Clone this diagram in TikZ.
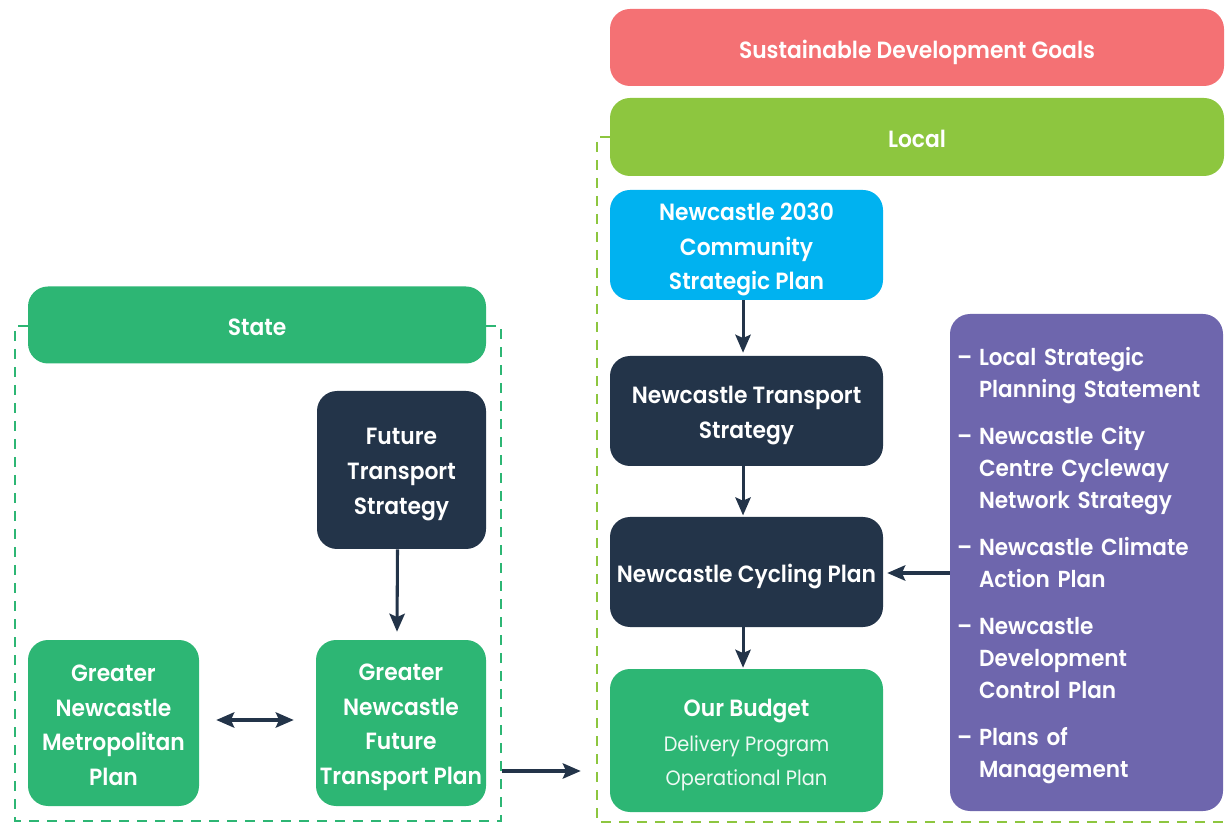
\documentclass[tikz,border=0pt]{standalone}
\usepackage{fontspec}
\setmainfont{Poppins}[FakeStretch=0.93]
\newfontfamily\semi{Poppins SemiBold}[FakeStretch=0.93]
\usetikzlibrary{arrows.meta}
\definecolor{sdg}{HTML}{F47174}
\definecolor{localg}{HTML}{8DC63F}
\definecolor{cyanb}{HTML}{00B2F0}
\definecolor{navy}{HTML}{233449}
\definecolor{greenb}{HTML}{2DB674}
\definecolor{purp}{HTML}{6E66AD}
\tikzset{
  x=0.75pt,y=-0.75pt,
  box/.style={draw=none,fill=#1,rounded corners=15pt,inner sep=0pt},
  lab/.style={inner sep=0pt,text=white,align=center,yshift=-3.4pt,
    font=\fontsize{17.6}{25.9}\selectfont\semi},
  labnd/.style={lab,yshift=1.7pt},
  pulab/.style={inner sep=0pt,text=white,align=left,text width=198pt,yshift=-2.6pt,
    font=\fontsize{17.4}{24}\selectfont\semi},
  arr/.style={draw=navy,line width=2.3pt,-{Stealth[length=13.5pt,width=11.5pt,inset=2.5pt]}},
  dbl/.style={draw=navy,line width=2.3pt,{Stealth[length=13.5pt,width=11.5pt,inset=2.5pt]}-{Stealth[length=13.5pt,width=11.5pt,inset=2.5pt]}},
  dashg/.style={draw=#1,line width=2pt,dash pattern=on 7.5pt off 6pt}
}
\newcommand{\reg}[1]{{\fontsize{15.6}{25.9}\selectfont\normalfont\color{white!92!greenb}#1}}
\newcommand{\dsh}{\makebox[16.5pt][l]{–}}
\newcommand{\ind}{\makebox[16.5pt][l]{}}
\begin{document}
\begin{tikzpicture}
\useasboundingbox (0,0) rectangle (1229,823);
\coordinate (sl) at (28,326);
\coordinate (sla) at (15,326);
\coordinate (slb) at (15,821);
\coordinate (slc) at (501,821);
\coordinate (sld) at (501,326);
\coordinate (sle) at (486,326);
\coordinate (ll) at (610,137);
\coordinate (lla) at (597,137);
\coordinate (llb) at (597,822);
\coordinate (llc) at (1224,822);
\draw[dashg=greenb] (sl) -- (sla) -- (slb) -- (slc) -- (sld) -- (sle);
\draw[dashg=localg] (ll) -- (lla) -- (llb) -- (llc);
\node[box=sdg,minimum width=460.5pt,minimum height=57.75pt] (sdgn) at (917,47.5) {};
\node[lab] (sdgt) at (sdgn.center) {Sustainable Development Goals};
\node[box=localg,minimum width=460.5pt,minimum height=58.5pt] (local) at (917,137) {};
\node[labnd] (localt) at (local.center) {Local};
\node[box=cyanb,minimum width=204.75pt,minimum height=82.5pt] (csp) at (746.5,245) {};
\node[lab] (cspt) at (csp.center) {Newcastle 2030\\Community\\Strategic Plan};
\node[box=navy,minimum width=204.75pt,minimum height=82.5pt] (nts) at (746.5,411) {};
\node[lab] (ntst) at (nts.center) {Newcastle Transport\\Strategy};
\node[box=navy,minimum width=204.75pt,minimum height=82.5pt] (ncp) at (746.5,572) {};
\node[lab] (ncpt) at (ncp.center) {Newcastle Cycling Plan};
\node[box=greenb,minimum width=204.75pt,minimum height=107.25pt] (bud) at (746.5,740.5) {};
\node[lab] (budt) at (bud.center) {Our Budget\\\reg{Delivery Program}\\\reg{Operational Plan}};
\node[box=purp,minimum width=204.75pt,minimum height=372.75pt] (pur) at (1086.5,562.5) {};
\node[pulab,xshift=1.9pt] (purt) at (pur.center) {%
\dsh Local Strategic\\\ind Planning Statement\\[11.25pt]
\dsh Newcastle City\\\ind Centre Cycleway\\\ind Network Strategy\\[11.25pt]
\dsh Newcastle Climate\\\ind Action Plan\\[11.25pt]
\dsh Newcastle\\\ind Development\\\ind Control Plan\\[11.25pt]
\dsh Plans of\\\ind Management};
\node[box=greenb,minimum width=343.5pt,minimum height=57.75pt] (state) at (257,325) {};
\node[labnd] (statet) at (state.center) {State};
\node[box=navy,minimum width=126.75pt,minimum height=118.5pt] (fts) at (401.5,470) {};
\node[lab] (ftst) at (fts.center) {Future\\Transport\\Strategy};
\node[box=greenb,minimum width=128.25pt,minimum height=124.5pt] (gnmp) at (113.5,723) {};
\node[labnd] (gnmpt) at (gnmp.center) {Greater\\Newcastle\\Metropolitan\\Plan};
\node[box=greenb,minimum width=127.5pt,minimum height=124.5pt] (gnftp) at (401,723) {};
\node[lab] (gnftpt) at (gnftp.center) {Greater\\Newcastle\\Future\\Transport Plan};
\draw[arr] ([xshift=-2.6pt]csp.south) -- ([xshift=-2.6pt,yshift=2.25pt]nts.north);
\draw[arr] ([xshift=-2.6pt]nts.south) -- ([xshift=-2.6pt,yshift=1pt]ncp.north);
\draw[arr] ([xshift=-2.6pt]ncp.south) -- ([xshift=-2.6pt,yshift=0.75pt]bud.north);
\draw[arr] ([xshift=-3pt]fts.south) -- ([xshift=-3pt,yshift=6pt]gnftp.north);
\draw[dbl,shorten <=12.75pt,shorten >=16.5pt] ([yshift=2.25pt]gnmp.east) -- ([yshift=2.25pt]gnftp.west);
\draw[arr,shorten <=12pt,shorten >=21.75pt] ([yshift=-36pt]gnftp.east) -- ([yshift=-36pt]gnftp.east -| bud.west);
\draw[arr,shorten >=3pt] ([yshift=-0.75pt]ncp.east -| pur.west) -- ([yshift=-0.75pt]ncp.east);
\end{tikzpicture}
\end{document}
